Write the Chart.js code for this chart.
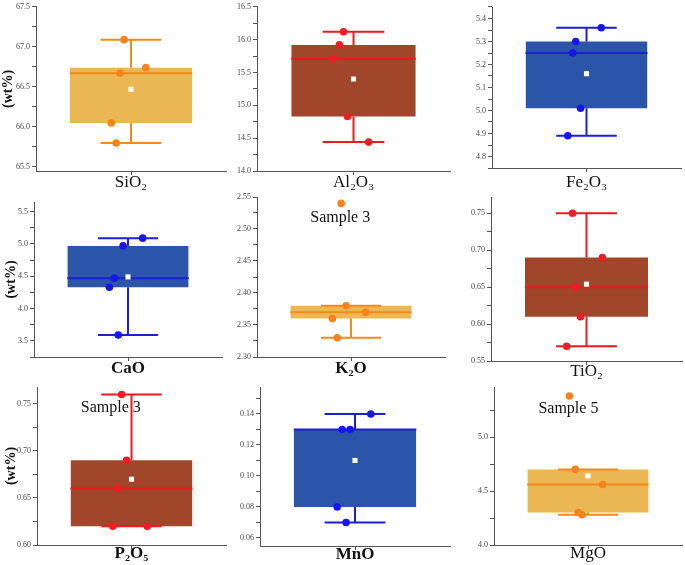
<!DOCTYPE html>
<html>
<head>
<meta charset="utf-8">
<script src="https://cdn.jsdelivr.net/npm/chart.js@4.4.0/dist/chart.umd.min.js"></script>
<style>
  html, body { margin: 0; padding: 0; background: #fff; }
  #wrap { position: relative; width: 685px; height: 565px; overflow: hidden; }
  #wrap canvas { position: absolute; }
</style>
</head>
<body>
<div id="wrap"></div>
<script>
// oxide names (x labels)
const oxides = ["SiO₂", "Al₂O₃", "Fe₂O₃", "CaO", "K₂O", "TiO₂", "P₂O₅", "MnO", "MgO"];

// measured samples for each oxide (wt%)
const samples = [
  [67.09, 66.74, 66.67, 66.05, 65.80],
  [16.12, 15.92, 15.71, 14.83, 14.44],
  [5.36, 5.30, 5.25, 5.01, 4.89],
  [5.09, 4.97, 4.47, 4.33, 3.59],
  [2.54, 2.38, 2.37, 2.36, 2.33],
  [0.75, 0.69, 0.65, 0.61, 0.57],
  [0.76, 0.69, 0.66, 0.62, 0.62],
  [0.14, 0.13, 0.13, 0.08, 0.07],
  [5.38, 4.70, 4.56, 4.30, 4.28]
];

// box statistics
const q1 = [66.05, 14.83, 5.01, 4.33, 2.36, 0.61, 0.62, 0.08, 4.30];
const q3 = [66.74, 15.92, 5.30, 4.97, 2.38, 0.69, 0.69, 0.13, 4.70];
const medians = [66.67, 15.71, 5.25, 4.47, 2.37, 0.65, 0.66, 0.13, 4.56];
const whiskLow = [65.80, 14.44, 4.89, 3.59, 2.33, 0.57, 0.62, 0.07, 4.28];
const whiskHigh = [67.09, 16.12, 5.36, 5.09, 2.38, 0.75, 0.76, 0.14, 4.70];
const means = [66.47, 15.40, 5.16, 4.49, null, 0.654, 0.67, 0.11, 4.64];

// y axis ranges and labelled ticks
const yMin = [65.45, 14.0, 4.75, 3.25, 2.30, 0.55, 0.60, 0.0548, 4.0];
const yMax = [67.5, 16.5, 5.45, 5.65, 2.55, 0.772, 0.768, 0.1574, 5.463];
const majorTicks = [
  [65.5, 66.0, 66.5, 67.0, 67.5],
  [14.0, 14.5, 15.0, 15.5, 16.0, 16.5],
  [4.8, 4.9, 5.0, 5.1, 5.2, 5.3, 5.4],
  [3.5, 4.0, 4.5, 5.0, 5.5],
  [2.30, 2.35, 2.40, 2.45, 2.50, 2.55],
  [0.55, 0.60, 0.65, 0.70, 0.75],
  [0.60, 0.65, 0.70, 0.75],
  [0.06, 0.08, 0.10, 0.12, 0.14],
  [4.0, 4.5, 5.0]
];
const tickDecimals = [1, 1, 1, 1, 2, 2, 2, 2, 1];

// outlier notes
const noteText = [null, null, null, null, "Sample 3", null, "Sample 3", null, "Sample 5"];
const noteY = [null, null, null, null, 2.518, null, 0.746, null, 5.26];

// ---- layout / styling ----
// dot jitter, px from the box centre
const jitter = [
  [-7, 15, -11, -20, -15],
  [-10, -14, -20, -6, 15],
  [15, -11, -14, -6, -19],
  [15, -5, -14, -19, -10],
  [-10, -5, 15, -19, -14],
  [-14, 16, -11, -6, -20],
  [-10, -5, -14, -19, 16],
  [16, -13, -5, -18, -9],
  [-19, -13, 15, -10, -6]
];
const noteDx = [0, 0, 0, 0, -11, 0, -21, 0, -20];
const boldLabel = [false, false, false, true, true, false, true, true, false];

const axisLeft = [36, 257, 492, 34, 257, 491, 37, 260, 494];
const axisRight = [228, 452, 683, 224, 447, 684, 228, 452, 684];
const plotTop = [6, 5, 7, 202, 197, 197, 387, 387, 387];
const axisBottom = [171, 171, 168, 357, 357, 361, 545, 546, 545];
const rowTop = [0, 188, 375];
const labelPad = [-3, -3, 0, -3, -3, -4, -6, -6, -6];

const HALF = 96, BOX = 0.645, CAP = 0.32;
const SERIF = '"Liberation Serif", "Times New Roman", serif';

const palettes = {
  gold: { fill: "#ebb752", line: "#f28a1c", dot: "#f5821f" },
  brown: { fill: "#a1462b", line: "#e81b1f", dot: "#ee1c24" },
  blue: { fill: "#2b55a8", line: "#1a1fd2", dot: "#1616e8" }
};
const paletteOf = ["gold", "brown", "blue", "blue", "gold", "brown", "brown", "blue", "gold"];

const wrap = document.getElementById("wrap");

function tickList(i) {
  const maj = majorTicks[i];
  const step = maj[1] - maj[0];
  const out = maj.slice();
  for (let k = 0; k < maj.length - 1; k++) out.push((maj[k] + maj[k + 1]) / 2);
  if (maj[maj.length - 1] + step / 2 <= yMax[i] + 1e-9) out.push(maj[maj.length - 1] + step / 2);
  if (maj[0] - step / 2 >= yMin[i] - 1e-9) out.push(maj[0] - step / 2);
  return out.sort((a, b) => a - b);
}

function makePanel(i) {
  const col = i % 3, row = Math.floor(i / 3);
  const L = axisLeft[i], R = axisRight[i], T = plotTop[i], B = axisBottom[i];
  const cLeft = col === 0 ? 0 : L - 36;
  const cTop = rowTop[row];
  const yw = L - cLeft;
  const xh = 24;

  const canvas = document.createElement("canvas");
  canvas.width = R - cLeft + 2;
  canvas.height = B - cTop + xh;
  canvas.style.left = cLeft + "px";
  canvas.style.top = cTop + "px";
  wrap.appendChild(canvas);

  const pal = palettes[paletteOf[i]];
  const majSet = new Set(majorTicks[i].map(v => v.toFixed(4)));

  const whisker = [
    { x: -CAP, y: whiskHigh[i] }, { x: CAP, y: whiskHigh[i] }, { x: 0, y: null },
    { x: 0, y: whiskHigh[i] }, { x: 0, y: q3[i] }, { x: 0, y: null },
    { x: 0, y: q1[i] }, { x: 0, y: whiskLow[i] }, { x: 0, y: null },
    { x: -CAP, y: whiskLow[i] }, { x: CAP, y: whiskLow[i] }
  ];

  const notePlugin = {
    id: "note" + i,
    afterDatasetsDraw(chart) {
      if (!noteText[i]) return;
      const ctx = chart.ctx;
      ctx.save();
      ctx.font = "16px " + SERIF;
      ctx.fillStyle = "#111";
      ctx.textAlign = "center";
      ctx.textBaseline = "middle";
      ctx.fillText(noteText[i],
        chart.scales.x.getPixelForValue(noteDx[i] / HALF),
        chart.scales.y.getPixelForValue(noteY[i]));
      ctx.restore();
    }
  };

  new Chart(canvas, {
    type: "line",
    data: {
      datasets: [
        {
          data: [{ x: -BOX, y: q3[i] }, { x: BOX, y: q3[i] }],
          fill: "+1",
          backgroundColor: pal.fill,
          borderColor: "rgba(0,0,0,0)",
          borderWidth: 0,
          pointRadius: 0,
          order: 5
        },
        {
          data: [{ x: -BOX, y: q1[i] }, { x: BOX, y: q1[i] }],
          fill: false,
          borderColor: "rgba(0,0,0,0)",
          borderWidth: 0,
          pointRadius: 0,
          order: 6
        },
        {
          data: whisker,
          borderColor: pal.line,
          borderWidth: 2,
          pointRadius: 0,
          spanGaps: false,
          fill: false,
          order: 3
        },
        {
          data: [{ x: -BOX, y: medians[i] }, { x: BOX, y: medians[i] }],
          borderColor: pal.line,
          borderWidth: 2,
          pointRadius: 0,
          fill: false,
          order: 2
        },
        {
          data: samples[i].map((v, k) => ({ x: jitter[i][k] / HALF, y: v })),
          showLine: false,
          pointRadius: 3.8,
          pointBackgroundColor: pal.dot,
          pointBorderWidth: 0,
          order: 1
        },
        {
          data: means[i] == null ? [] : [{ x: 0, y: means[i] }],
          showLine: false,
          pointStyle: "rect",
          pointRadius: 3.6,
          pointBackgroundColor: "#fff",
          pointBorderWidth: 0,
          order: 0
        }
      ]
    },
    options: {
      responsive: false,
      animation: false,
      events: [],
      layout: { padding: { top: T - cTop, right: 2, left: 0, bottom: 0 } },
      plugins: { legend: { display: false }, tooltip: { enabled: false } },
      scales: {
        x: {
          type: "linear",
          min: -1,
          max: 1,
          afterBuildTicks: s => { s.ticks = [{ value: 0 }]; },
          afterFit: s => { s.height = xh; },
          ticks: {
            callback: () => oxides[i],
            autoSkip: false,
            maxRotation: 0,
            padding: labelPad[i],
            color: "#111",
            font: { family: SERIF, size: 17, weight: boldLabel[i] ? "bold" : "normal" }
          },
          grid: { drawOnChartArea: false, tickLength: 4, tickColor: "#555" },
          border: { color: "#555", width: 1 }
        },
        y: {
          type: "linear",
          min: yMin[i],
          max: yMax[i],
          afterBuildTicks: s => { s.ticks = tickList(i).map(v => ({ value: v })); },
          afterFit: s => { s.width = yw; },
          ticks: {
            autoSkip: false,
            padding: 2,
            color: "#444",
            font: { family: SERIF, size: 8 },
            callback: v => (majSet.has(Number(v).toFixed(4)) ? Number(v).toFixed(tickDecimals[i]) : "")
          },
          grid: { drawOnChartArea: false, tickLength: 4, tickColor: "#555" },
          border: { color: "#555", width: 1 },
          title: {
            display: col === 0,
            text: "(wt%)",
            color: "#111",
            font: { family: SERIF, size: 14, weight: "bold" },
            padding: { top: row === 0 ? 0 : 3, bottom: 0 }
          }
        }
      }
    },
    plugins: [notePlugin]
  });
}

for (let i = 0; i < oxides.length; i++) makePanel(i);
</script>
</body>
</html>
